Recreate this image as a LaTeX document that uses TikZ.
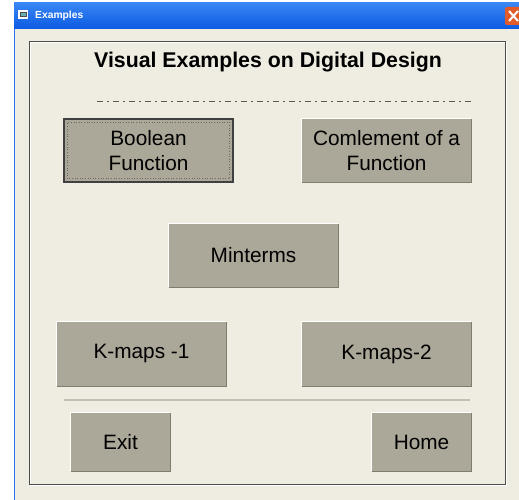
\documentclass[tikz,border=0pt]{standalone}
\usepackage{fontspec}
\setmainfont{Liberation Sans}
\usetikzlibrary{positioning}

\definecolor{winblue}{HTML}{0A5AE2}
\definecolor{winbluetop}{HTML}{3A86F4}
\definecolor{winedge}{HTML}{2A72F0}
\definecolor{winface}{HTML}{EFEDE2}
\definecolor{btnface}{HTML}{ACA899}
\definecolor{btnshade}{HTML}{7F7C70}
\definecolor{closered}{HTML}{E05A2A}
\definecolor{rulegray}{HTML}{C2C0B6}

\begin{document}
\begin{tikzpicture}[
  x=1pt, y=-1pt,
  btn/.style={rectangle, fill=btnface, minimum width=169pt, minimum height=63pt,
              inner sep=0pt, align=center, font=\fontsize{20.8}{25}\selectfont},
  smallbtn/.style={btn, minimum width=99pt, minimum height=58pt},
  hdr/.style={font=\fontsize{21.3}{24}\selectfont\bfseries, inner sep=0pt},
  caption/.style={font=\fontsize{10.3}{12}\selectfont\bfseries, text=white,
                  anchor=west, inner sep=0pt}]

  \useasboundingbox (0,0) rectangle (519,500);

  % ---- window ----------------------------------------------------------
  \fill[white] (0,0) rectangle (519,500);
  \fill[winface] (14,29) rectangle (519,500);
  \shade[top color=winbluetop, bottom color=winblue] (14,3) rectangle (519,29);
  \draw[winedge, line width=1.5pt] (14.5,29) -- (14.5,500);
  \node[caption] (cap) at (35,15.5) {Examples};
  % window icon
  \fill[white] (18,10) rectangle (28,19);
  \fill[black!70] (19.5,12) rectangle (26.5,17.5);
  \fill[teal!60] (20.5,13) rectangle (25.5,16.5);
  % close box
  \fill[closered, rounded corners=2pt] (505,7) rectangle (524,25);
  \draw[white, line width=2pt] (509,11) -- (518,21) (509,21) -- (518,11);

  % ---- panel -----------------------------------------------------------
  \draw[white, line width=1pt] (30.5,42.5) rectangle (506.5,485.5);
  \draw[black!70, line width=1pt] (29.5,41.5) rectangle (505.5,484.5);

  \node[hdr] (title) at (268,62) {Visual Examples on Digital Design};
  \coordinate (dl) at (97,101);
  \coordinate (dr) at (473,101);
  \draw[black!65, line width=0.9pt, dash pattern=on 6pt off 4pt on 2pt off 4pt] (dl) -- (dr);

  % ---- buttons ---------------------------------------------------------
  \node[btn, draw=black!75, line width=1.2pt] (bool) at (148.5,150.5) {Boolean\\Function};
  \node[btn] (compl) at (386.5,150.5) {Comlement of a\\Function};
  \node[btn] (mint)  at (253.5,255.5) {Minterms};
  \node[btn, minimum height=64pt] (kmapa) at (141.5,354) {K-maps -1};
  \node[btn, minimum height=64pt] (kmapb) at (386.5,354) {K-maps-2};
  \node[smallbtn] (exit) at (120.5,442) {Exit};
  \node[smallbtn] (home) at (421.5,442) {Home};

  % bevel edges
  \foreach \b in {compl, mint, kmapa, kmapb, exit, home} {
    \draw[white, line width=1pt] (\b.south west) |- (\b.north east);
    \draw[btnshade, line width=1.2pt] (\b.south west) -| (\b.north east);
  }
  % focus ring
  \draw[black!60, dotted, line width=0.6pt]
    ([shift={(4pt,4pt)}]bool.south west) rectangle ([shift={(-4pt,-4pt)}]bool.north east);

  % ---- separator -------------------------------------------------------
  \coordinate (sl) at (64,400);
  \coordinate (sr) at (470,400);
  \draw[rulegray, line width=1.5pt] (sl) -- (sr);
\end{tikzpicture}
\end{document}
